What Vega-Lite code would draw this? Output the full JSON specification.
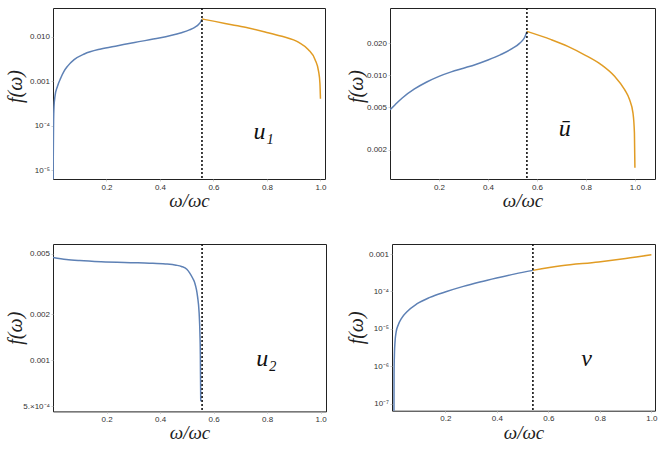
{
  "$schema": "https://vega.github.io/schema/vega-lite/v6.json",
  "padding": {"left": 4, "top": 6, "right": 0, "bottom": 0},
  "background": "white",
  "config": {
    "view": {"stroke": "#222", "strokeWidth": 1},
    "axis": {
      "grid": false,
      "domain": false,
      "labelFont": "Liberation Sans",
      "labelFontSize": 8,
      "labelColor": "#333",
      "labelFlush": false,
      "labelOverlap": false,
      "tickColor": "#bbb",
      "tickSize": 2,
      "tickWidth": 0.7,
      "titleFont": "Liberation Serif",
      "titleFontStyle": "italic",
      "titleFontWeight": "normal",
      "titleFontSize": 20,
      "titleColor": "#222",
      "titleBaseline": "middle"
    },
    "axisX": {"labelPadding": 2, "titleFontSize": 19},
    "axisY": {"labelPadding": 1.5, "titleAngle": -90},
    "text": {"font": "Liberation Serif", "fontStyle": "italic", "fontSize": 24, "color": "#111"}
  },
  "datasets": {
    "u1": [
      {"x": 0.0003, "y": 1e-6, "s": "a"},
      {"x": 0.001, "y": 2e-5, "s": "a"},
      {"x": 0.0022, "y": 1.2e-4, "s": "a"},
      {"x": 0.0038, "y": 2.7e-4, "s": "a"},
      {"x": 0.0075, "y": 4.6e-4, "s": "a"},
      {"x": 0.0165, "y": 7.6e-4, "s": "a"},
      {"x": 0.029, "y": 1.18e-3, "s": "a"},
      {"x": 0.041, "y": 1.66e-3, "s": "a"},
      {"x": 0.054, "y": 2.15e-3, "s": "a"},
      {"x": 0.079, "y": 3.04e-3, "s": "a"},
      {"x": 0.117, "y": 4.08e-3, "s": "a"},
      {"x": 0.179, "y": 5.3e-3, "s": "a"},
      {"x": 0.242, "y": 6.28e-3, "s": "a"},
      {"x": 0.305, "y": 7.44e-3, "s": "a"},
      {"x": 0.397, "y": 9.3e-3, "s": "a"},
      {"x": 0.44, "y": 1.06e-2, "s": "a"},
      {"x": 0.48, "y": 1.23e-2, "s": "a"},
      {"x": 0.51, "y": 1.42e-2, "s": "a"},
      {"x": 0.53, "y": 1.62e-2, "s": "a"},
      {"x": 0.545, "y": 1.9e-2, "s": "a"},
      {"x": 0.553, "y": 2.2e-2, "s": "a"},
      {"x": 0.557, "y": 2.5e-2, "s": "a"},
      {"x": 0.557, "y": 2.5e-2, "s": "b"},
      {"x": 0.605, "y": 2.21e-2, "s": "b"},
      {"x": 0.668, "y": 1.86e-2, "s": "b"},
      {"x": 0.731, "y": 1.57e-2, "s": "b"},
      {"x": 0.793, "y": 1.28e-2, "s": "b"},
      {"x": 0.856, "y": 1.02e-2, "s": "b"},
      {"x": 0.919, "y": 7.45e-3, "s": "b"},
      {"x": 0.955, "y": 5.1e-3, "s": "b"},
      {"x": 0.98, "y": 3.04e-3, "s": "b"},
      {"x": 0.993, "y": 1.66e-3, "s": "b"},
      {"x": 0.998, "y": 9e-4, "s": "b"},
      {"x": 1.0, "y": 4e-4, "s": "b"}
    ],
    "ubar": [
      {"x": 0.0, "y": 4.73e-3, "s": "a"},
      {"x": 0.02, "y": 5.25e-3, "s": "a"},
      {"x": 0.05, "y": 6.1e-3, "s": "a"},
      {"x": 0.1, "y": 7.41e-3, "s": "a"},
      {"x": 0.15, "y": 8.61e-3, "s": "a"},
      {"x": 0.2, "y": 9.73e-3, "s": "a"},
      {"x": 0.25, "y": 1.072e-2, "s": "a"},
      {"x": 0.3, "y": 1.161e-2, "s": "a"},
      {"x": 0.35, "y": 1.259e-2, "s": "a"},
      {"x": 0.4, "y": 1.387e-2, "s": "a"},
      {"x": 0.45, "y": 1.549e-2, "s": "a"},
      {"x": 0.5, "y": 1.778e-2, "s": "a"},
      {"x": 0.53, "y": 1.995e-2, "s": "a"},
      {"x": 0.55, "y": 2.265e-2, "s": "a"},
      {"x": 0.559, "y": 2.57e-2, "s": "a"},
      {"x": 0.559, "y": 2.57e-2, "s": "b"},
      {"x": 0.658, "y": 2.15e-2, "s": "b"},
      {"x": 0.726, "y": 1.86e-2, "s": "b"},
      {"x": 0.794, "y": 1.55e-2, "s": "b"},
      {"x": 0.862, "y": 1.253e-2, "s": "b"},
      {"x": 0.917, "y": 9.73e-3, "s": "b"},
      {"x": 0.958, "y": 7.3e-3, "s": "b"},
      {"x": 0.978, "y": 5.89e-3, "s": "b"},
      {"x": 0.992, "y": 4.42e-3, "s": "b"},
      {"x": 0.998, "y": 2.86e-3, "s": "b"},
      {"x": 1.0, "y": 1.35e-3, "s": "b"}
    ],
    "u2": [
      {"x": 0.0, "y": 4.72e-3, "s": "a"},
      {"x": 0.05, "y": 4.58e-3, "s": "a"},
      {"x": 0.1, "y": 4.5e-3, "s": "a"},
      {"x": 0.18, "y": 4.42e-3, "s": "a"},
      {"x": 0.29, "y": 4.36e-3, "s": "a"},
      {"x": 0.36, "y": 4.33e-3, "s": "a"},
      {"x": 0.42, "y": 4.28e-3, "s": "a"},
      {"x": 0.46, "y": 4.2e-3, "s": "a"},
      {"x": 0.48, "y": 4.12e-3, "s": "a"},
      {"x": 0.5, "y": 3.95e-3, "s": "a"},
      {"x": 0.511, "y": 3.73e-3, "s": "a"},
      {"x": 0.522, "y": 3.45e-3, "s": "a"},
      {"x": 0.53, "y": 3.2e-3, "s": "a"},
      {"x": 0.536, "y": 2.9e-3, "s": "a"},
      {"x": 0.54, "y": 2.62e-3, "s": "a"},
      {"x": 0.546, "y": 2.04e-3, "s": "a"},
      {"x": 0.549, "y": 1.5e-3, "s": "a"},
      {"x": 0.5505, "y": 1.1e-3, "s": "a"},
      {"x": 0.551, "y": 8.3e-4, "s": "a"},
      {"x": 0.552, "y": 5.4e-4, "s": "a"}
    ],
    "v": [
      {"x": 0.0005, "y": 3e-8, "s": "a"},
      {"x": 0.001, "y": 6e-7, "s": "a"},
      {"x": 0.0025, "y": 2.2e-6, "s": "a"},
      {"x": 0.005, "y": 4.8e-6, "s": "a"},
      {"x": 0.009, "y": 8.2e-6, "s": "a"},
      {"x": 0.0175, "y": 1.3e-5, "s": "a"},
      {"x": 0.0306, "y": 1.96e-5, "s": "a"},
      {"x": 0.05, "y": 2.84e-5, "s": "a"},
      {"x": 0.089, "y": 4.64e-5, "s": "a"},
      {"x": 0.14, "y": 6.97e-5, "s": "a"},
      {"x": 0.205, "y": 1.0e-4, "s": "a"},
      {"x": 0.27, "y": 1.37e-4, "s": "a"},
      {"x": 0.334, "y": 1.79e-4, "s": "a"},
      {"x": 0.399, "y": 2.29e-4, "s": "a"},
      {"x": 0.471, "y": 2.95e-4, "s": "a"},
      {"x": 0.54, "y": 3.66e-4, "s": "a"},
      {"x": 0.54, "y": 3.66e-4, "s": "b"},
      {"x": 0.65, "y": 4.85e-4, "s": "b"},
      {"x": 0.795, "y": 6.15e-4, "s": "b"},
      {"x": 0.9, "y": 7.6e-4, "s": "b"},
      {"x": 1.0, "y": 9.6e-4, "s": "b"}
    ]
  },
  "columns": 2,
  "bounds": "full",
  "align": "none",
  "spacing": {"row": 31, "column": 18},
  "concat": [
    {
      "width": 272,
      "height": 171,
      "encoding": {
        "x": {"field": "x", "type": "quantitative",
          "scale": {"domain": [0, 1.017], "nice": false, "zero": false},
          "axis": {"values": [0.2, 0.4, 0.6, 0.8, 1.0], "format": ".1f", "title": "ω/ωc", "titleY": 21.5}}
      },
      "layer": [
        {
          "data": {"name": "u1"},
          "mark": {"type": "line", "strokeWidth": 1.5, "clip": true, "interpolate": "monotone"},
          "encoding": {
            "y": {"field": "y", "type": "quantitative",
              "scale": {"type": "log", "domain": [6.3e-6, 0.0442], "nice": false},
              "axis": {"values": [1e-5, 1e-4, 0.001, 0.01], "labelExpr": "datum.value < 0.00005 ? '10⁻⁵' : datum.value < 0.0005 ? '10⁻⁴' : format(datum.value, '.3f')", "title": "f(ω)", "titleX": -38, "titleY": 78}},
            "color": {"field": "s", "type": "nominal", "scale": {"domain": ["a", "b"], "range": ["#5E81B5", "#E19C24"]}, "legend": null}
          }
        },
        {
          "data": {"values": [{"x": 0.557}]},
          "mark": {"type": "rule", "color": "#111", "strokeWidth": 1.6, "strokeDash": [2, 2]},
          "encoding": {}
        },
        {
          "data": {"values": [{"x": 0.788, "y": 7.3e-5, "t": "u₁"}]},
          "mark": {"type": "text"},
          "encoding": {
            "y": {"field": "y", "type": "quantitative", "scale": {"type": "log", "domain": [6.3e-6, 0.0442], "nice": false}},
            "text": {"field": "t"}
          }
        }
      ]
    },
    {
      "width": 265,
      "height": 171,
      "encoding": {
        "x": {"field": "x", "type": "quantitative",
          "scale": {"domain": [0, 1.082], "nice": false, "zero": false},
          "axis": {"values": [0.2, 0.4, 0.6, 0.8, 1.0], "format": ".1f", "title": "ω/ωc", "titleY": 21.5}}
      },
      "layer": [
        {
          "data": {"name": "ubar"},
          "mark": {"type": "line", "strokeWidth": 1.5, "clip": true, "interpolate": "monotone"},
          "encoding": {
            "y": {"field": "y", "type": "quantitative",
              "scale": {"type": "log", "domain": [1.06e-3, 0.0426], "nice": false},
              "axis": {"values": [0.002, 0.005, 0.01, 0.02], "format": ".3f", "title": "f(ω)", "titleX": -34, "titleY": 78}},
            "color": {"field": "s", "type": "nominal", "scale": {"domain": ["a", "b"], "range": ["#5E81B5", "#E19C24"]}, "legend": null}
          }
        },
        {
          "data": {"values": [{"x": 0.559}]},
          "mark": {"type": "rule", "color": "#111", "strokeWidth": 1.6, "strokeDash": [2, 2]},
          "encoding": {}
        },
        {
          "data": {"values": [{"x": 0.714, "y": 3.1e-3, "t": "ū"}]},
          "mark": {"type": "text"},
          "encoding": {
            "y": {"field": "y", "type": "quantitative", "scale": {"type": "log", "domain": [1.06e-3, 0.0426], "nice": false}},
            "text": {"field": "t"}
          }
        }
      ]
    },
    {
      "width": 273,
      "height": 167.4,
      "encoding": {
        "x": {"field": "x", "type": "quantitative",
          "scale": {"domain": [0, 1.02], "nice": false, "zero": false},
          "axis": {"values": [0.2, 0.4, 0.6, 0.8, 1.0], "format": ".1f", "title": "ω/ωc", "titleY": 21.5}}
      },
      "layer": [
        {
          "data": {"name": "u2"},
          "mark": {"type": "line", "strokeWidth": 1.5, "clip": true, "interpolate": "monotone"},
          "encoding": {
            "y": {"field": "y", "type": "quantitative",
              "scale": {"type": "log", "domain": [4.63e-4, 5.78e-3], "nice": false},
              "axis": {"values": [5e-4, 0.001, 0.002, 0.005], "labelExpr": "datum.value < 0.0009 ? '5.×10⁻⁴' : format(datum.value, '.3f')", "title": "f(ω)", "titleX": -38}},
            "color": {"field": "s", "type": "nominal", "scale": {"domain": ["a", "b"], "range": ["#5E81B5", "#E19C24"]}, "legend": null}
          }
        },
        {
          "data": {"values": [{"x": 0.557}]},
          "mark": {"type": "rule", "color": "#111", "strokeWidth": 1.6, "strokeDash": [2, 2]},
          "encoding": {}
        },
        {
          "data": {"values": [{"x": 0.797, "y": 1.026e-3, "t": "u₂"}]},
          "mark": {"type": "text"},
          "encoding": {
            "y": {"field": "y", "type": "quantitative", "scale": {"type": "log", "domain": [4.63e-4, 5.78e-3], "nice": false}},
            "text": {"field": "t"}
          }
        }
      ]
    },
    {
      "width": 263,
      "height": 166.7,
      "encoding": {
        "x": {"field": "x", "type": "quantitative",
          "scale": {"domain": [-0.007, 1.014], "nice": false, "zero": false},
          "axis": {"values": [0.2, 0.4, 0.6, 0.8, 1.0], "format": ".1f", "title": "ω/ωc", "titleY": 21.5}}
      },
      "layer": [
        {
          "data": {"name": "v"},
          "mark": {"type": "line", "strokeWidth": 1.5, "clip": true, "interpolate": "monotone"},
          "encoding": {
            "y": {"field": "y", "type": "quantitative",
              "scale": {"type": "log", "domain": [6.6e-8, 1.85e-3], "nice": false},
              "axis": {"values": [1e-7, 1e-6, 1e-5, 1e-4, 0.001], "labelExpr": "datum.value > 0.0005 ? '0.001' : '10' + ['⁻⁷', '⁻⁶', '⁻⁵', '⁻⁴'][round(log(datum.value) / LN10) + 7]", "title": "f(ω)", "titleX": -36}},
            "color": {"field": "s", "type": "nominal", "scale": {"domain": ["a", "b"], "range": ["#5E81B5", "#E19C24"]}, "legend": null}
          }
        },
        {
          "data": {"values": [{"x": 0.54}]},
          "mark": {"type": "rule", "color": "#111", "strokeWidth": 1.6, "strokeDash": [2, 2]},
          "encoding": {}
        },
        {
          "data": {"values": [{"x": 0.748, "y": 1.58e-6, "t": "v"}]},
          "mark": {"type": "text"},
          "encoding": {
            "y": {"field": "y", "type": "quantitative", "scale": {"type": "log", "domain": [6.6e-8, 1.85e-3], "nice": false}},
            "text": {"field": "t"}
          }
        }
      ]
    }
  ]
}
